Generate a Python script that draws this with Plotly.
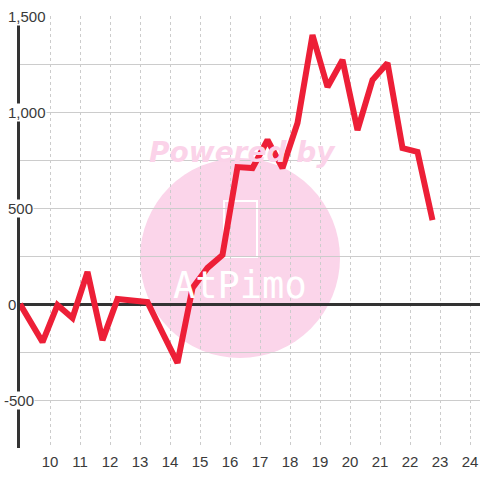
import plotly.graph_objects as go

# Data
x_hours = [9.0, 9.75, 10.25, 10.75, 11.25, 11.75, 12.25, 12.75, 13.25, 13.75,
           14.25, 14.75, 15.25, 15.75, 16.25, 16.75, 17.25, 17.75, 18.25, 18.75,
           19.25, 19.75, 20.25, 20.75, 21.25, 21.75, 22.25, 22.75]
values = [0, -198, -5, -73, 167, -188, 26, 18, 10, -150,
          -307, 83, 188, 255, 713, 708, 854, 708, 943, 1401,
          1130, 1271, 906, 1167, 1255, 812, 792, 437]
x_ticks = list(range(10, 25))
y_ticks = [1500, 1000, 500, 0, -500]
y_tick_labels = ["1,500", "1,000", "500", "0", "-500"]

W, H = 480, 480
ML, MR, MT, MB = 20, 0, 16, 32
PW = W - ML - MR
PH = H - MT - MB

fig = go.Figure()
fig.add_trace(go.Scatter(
    x=x_hours, y=values, mode="lines",
    line=dict(color="#ed1f37", width=6),
    hoverinfo="skip", showlegend=False, cliponaxis=False,
))

def px_x(p):
    return (p - ML) / PW

def px_y(p):
    return (H - MB - p) / PH

shapes = [
    dict(type="circle", xref="paper", yref="paper",
         x0=px_x(140), x1=px_x(340), y0=px_y(358), y1=px_y(158),
         fillcolor="#fbd5ea", line=dict(width=0), layer="below"),
    dict(type="rect", xref="paper", yref="paper",
         x0=px_x(224), x1=px_x(257), y0=px_y(257), y1=px_y(201),
         fillcolor="rgba(0,0,0,0)", line=dict(color="white", width=2), layer="below"),
]

annotations = [
    dict(text="<b><i>Powered by</i></b>", xref="paper", yref="paper",
         x=px_x(242), y=px_y(134), showarrow=False,
         font=dict(family="DejaVu Sans", size=28, color="#fbd3e9")),
    dict(text="AtPimo", xref="paper", yref="paper",
         x=px_x(240), y=px_y(285), showarrow=False,
         font=dict(family="DejaVu Sans Mono", size=37, color="white")),
]
for v, lab in zip(y_ticks, y_tick_labels):
    left = 7 if not lab.startswith("-") else 2.5
    annotations.append(dict(
        text=lab, xref="paper", yref="y", x=px_x(left), y=v,
        xanchor="left", yanchor="middle", showarrow=False,
        bgcolor="white", borderpad=0,
        font=dict(family="Liberation Sans, Arial, sans-serif", size=15, color="#3a3a3a"),
    ))

fig.update_layout(
    width=W, height=H,
    margin=dict(l=ML, r=MR, t=MT, b=MB, pad=0),
    paper_bgcolor="white", plot_bgcolor="white",
    shapes=shapes, annotations=annotations,
    xaxis=dict(range=[9, 9 + PW / 30], tickvals=x_ticks,
               ticktext=[str(t) for t in x_ticks],
               showgrid=True, gridcolor="#cccccc", griddash="dot", gridwidth=1,
               showline=False, zeroline=False, ticks="", ticklabelstandoff=3,
               tickfont=dict(family="Liberation Sans, Arial, sans-serif", size=15, color="#3a3a3a")),
    yaxis=dict(range=[-750, 1500], dtick=250, tick0=0,
               showgrid=True, gridcolor="#cccccc", gridwidth=1,
               showline=True, linecolor="#333333", linewidth=3,
               zeroline=True, zerolinecolor="#333333", zerolinewidth=3,
               showticklabels=False, ticks=""),
)

fig.write_html("out.html", config={"displayModeBar": False},
               post_script="document.body.style.margin='0px';")
